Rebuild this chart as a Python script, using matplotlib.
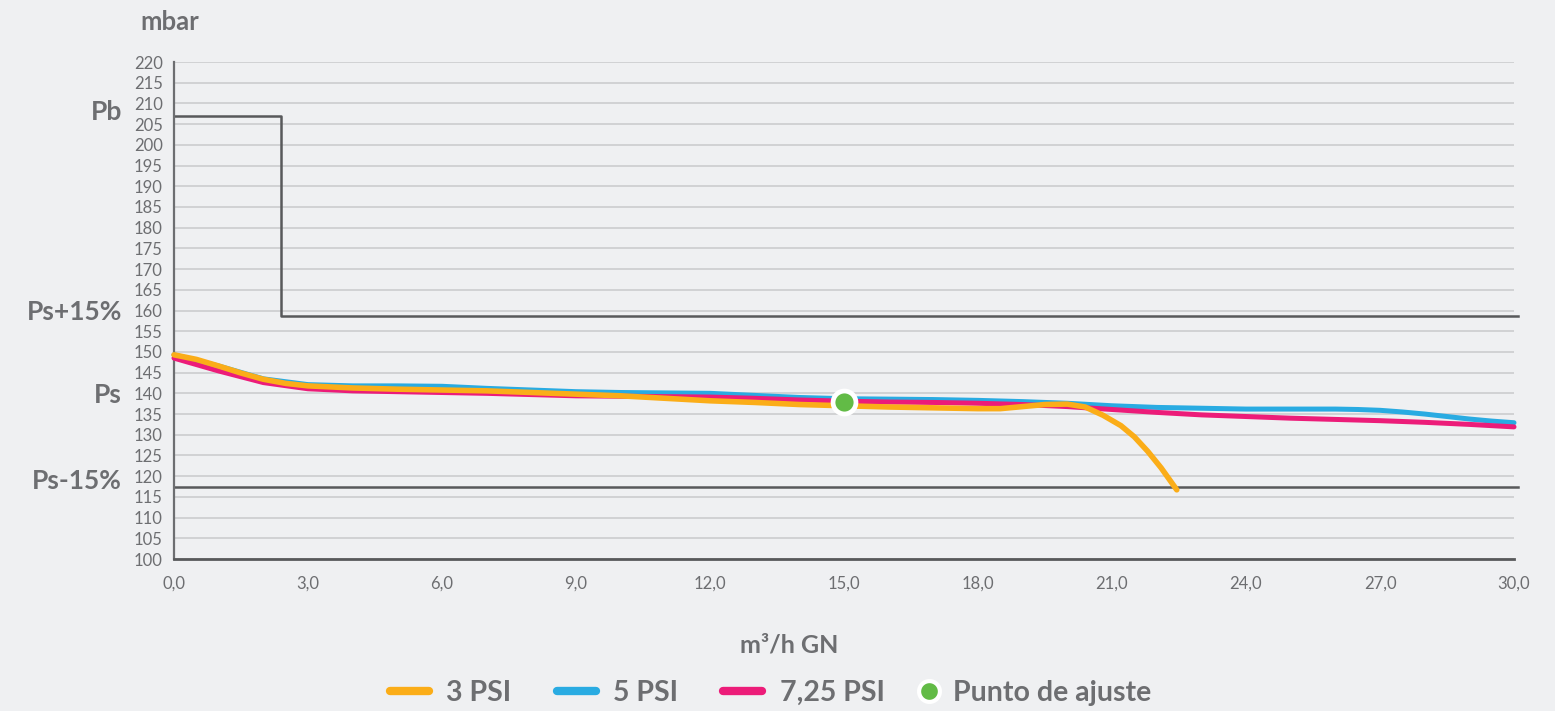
import matplotlib
matplotlib.use("Agg")
import matplotlib.pyplot as plt
from matplotlib.lines import Line2D
from matplotlib.transforms import blended_transform_factory

# ---------------- data ----------------
x_3psi = [0, 0.5, 1, 1.5, 2, 2.5, 3, 4, 5, 6, 7, 8, 9, 10, 11, 12, 13, 14, 15, 16,
          17, 18, 18.5, 19, 19.5, 20, 20.4, 20.8, 21.2, 21.5, 21.8, 22.1, 22.45]
y_3psi = [149.3, 148.2, 146.6, 144.9, 143.4, 142.4, 141.8, 141.3, 141.0, 140.8, 140.6,
          140.2, 139.8, 139.4, 138.8, 138.2, 137.8, 137.3, 137.0, 136.7, 136.5, 136.3,
          136.3, 136.8, 137.3, 137.4, 136.7, 134.7, 132.2, 129.5, 126.0, 122.0, 116.7]

x_5psi = [0, 1, 2, 3, 4, 5, 6, 7, 8, 9, 10, 11, 12, 13, 14, 15, 16, 17, 18, 19, 20,
          21, 22, 23, 24, 25, 26, 26.5, 27, 27.5, 28, 28.5, 29, 29.5, 30]
y_5psi = [149.3, 146.6, 143.5, 142.1, 141.8, 141.8, 141.7, 141.2, 140.8, 140.4, 140.2,
          140.1, 140.0, 139.5, 139.0, 138.7, 138.6, 138.5, 138.3, 138.0, 137.6, 137.0,
          136.6, 136.4, 136.2, 136.2, 136.2, 136.1, 135.9, 135.5, 135.0, 134.4, 133.8,
          133.3, 132.9]

x_725psi = [0, 1, 2, 3, 4, 5, 6, 7, 8, 9, 10, 11, 12, 13, 14, 15, 16, 17, 18, 19, 20,
            21, 22, 23, 24, 25, 26, 27, 28, 29, 30]
y_725psi = [148.5, 145.4, 142.6, 141.1, 140.6, 140.4, 140.2, 140.0, 139.7, 139.4, 139.3,
            139.2, 139.1, 138.8, 138.4, 138.1, 137.9, 137.8, 137.6, 137.3, 136.8, 136.1,
            135.4, 134.8, 134.4, 134.0, 133.7, 133.4, 133.0, 132.5, 131.9]

set_point_x = [15.0]
set_point_y = [138.0]

# limit lines
Ps = 138.0
Pb = 207.0
Ps_plus = 158.7
Ps_minus = 117.3
limit_upper_x = [0, 2.4, 2.4, 30.1]
limit_upper_y = [Pb, Pb, Ps_plus, Ps_plus]
limit_lower_x = [0, 30.1]
limit_lower_y = [Ps_minus, Ps_minus]

y_ticks = list(range(100, 221, 5))
x_ticks = [0, 3, 6, 9, 12, 15, 18, 21, 24, 27, 30]
x_tick_labels = ["0,0", "3,0", "6,0", "9,0", "12,0", "15,0", "18,0", "21,0", "24,0", "27,0", "30,0"]

side_labels = ["Pb", "Ps+15%", "Ps", "Ps-15%"]
side_label_y = [208.0, 159.7, 139.5, 118.8]

series_names = ["3 PSI", "5 PSI", "7,25 PSI", "Punto de ajuste"]

# ---------------- style ----------------
BG = "#eff0f2"
TXT = "#6d6e71"
GRID = "#c8c9cb"
DARK = "#58595b"
ORANGE = "#fbad18"
BLUE = "#29abe2"
PINK = "#ec1c79"
GREEN = "#62bb46"

plt.rcParams["font.family"] = ["Lato", "DejaVu Sans"]

fig = plt.figure(figsize=(15.55, 7.11), dpi=100, facecolor=BG)
ax = fig.add_axes([174 / 1555, 1 - 559 / 711, (1514 - 174) / 1555, (559 - 62) / 711])
ax.set_facecolor(BG)

ax.set_xlim(0, 30)
ax.set_ylim(100, 220)
ax.set_yticks(y_ticks)
ax.set_xticks(x_ticks)
ax.set_xticklabels(x_tick_labels)
ax.yaxis.grid(True, color=GRID, linewidth=1.1, zorder=0)
ax.xaxis.grid(False)
ax.set_axisbelow(True)
ax.tick_params(axis="both", length=0, labelsize=12, labelcolor=TXT)
ax.tick_params(axis="y", pad=8)
ax.tick_params(axis="x", pad=12)

for s in ["top", "right"]:
    ax.spines[s].set_visible(False)
ax.spines["left"].set_color(TXT)
ax.spines["left"].set_linewidth(1.6)
ax.spines["bottom"].set_color(DARK)
ax.spines["bottom"].set_linewidth(2.0)

# limit lines
ax.plot(limit_upper_x, limit_upper_y, color=DARK, linewidth=1.8, zorder=2, clip_on=False)
ax.plot(limit_lower_x, limit_lower_y, color=DARK, linewidth=1.8, zorder=2, clip_on=False)

# curves
ax.plot(x_5psi, y_5psi, color=BLUE, linewidth=3.6, solid_capstyle="round",
        solid_joinstyle="round", zorder=3, clip_on=False)
ax.plot(x_725psi, y_725psi, color=PINK, linewidth=3.6, solid_capstyle="round",
        solid_joinstyle="round", zorder=4, clip_on=False)
ax.plot(x_3psi, y_3psi, color=ORANGE, linewidth=4.0, solid_capstyle="round",
        solid_joinstyle="round", zorder=5, clip_on=False)
ax.plot(set_point_x, set_point_y, linestyle="none", marker="o", markersize=16.5,
        markerfacecolor=GREEN, markeredgecolor="white", markeredgewidth=3.4, zorder=6)

# side labels
tr = blended_transform_factory(fig.transFigure, ax.transData)
for lab, yv in zip(side_labels, side_label_y):
    ax.text(122 / 1555, yv, lab, transform=tr, ha="right", va="center",
            fontsize=19, fontweight="bold", color=TXT)

fig.text(170 / 1555, 1 - 22 / 711, "mbar", ha="center", va="center",
         fontsize=18.5, fontweight="bold", color=TXT)
fig.text(789 / 1555, 1 - 645 / 711, "m³/h GN", ha="center", va="center",
         fontsize=18, fontweight="bold", color=TXT)

# legend (two parts: the three line series, then the set-point marker)
leg_prop = {"family": ["Lato", "DejaVu Sans"], "weight": "bold", "size": 20.5}
line_handles = [
    Line2D([0], [0], color=ORANGE, linewidth=6, solid_capstyle="round"),
    Line2D([0], [0], color=BLUE, linewidth=6, solid_capstyle="round"),
    Line2D([0], [0], color=PINK, linewidth=6, solid_capstyle="round"),
]
marker_handle = Line2D([0], [0], linestyle="none", marker="o", markersize=15,
                       markerfacecolor=GREEN, markeredgecolor="white", markeredgewidth=3)

leg_y = 1 - 693 / 711
leg1 = fig.legend(line_handles, series_names[:3], loc="center left",
                  bbox_to_anchor=(390 / 1555, leg_y), ncol=3, frameon=False,
                  borderpad=0, borderaxespad=0, handlelength=1.37, handletextpad=0.6,
                  columnspacing=1.6, prop=leg_prop)
leg2 = fig.legend([marker_handle], series_names[3:], loc="center left",
                  bbox_to_anchor=(917.5 / 1555, leg_y), ncol=1, frameon=False,
                  borderpad=0, borderaxespad=0, handlelength=0.8, handletextpad=0.44,
                  prop=leg_prop)
for lg in (leg1, leg2):
    for t in lg.get_texts():
        t.set_color(TXT)

fig.savefig("out.png", dpi=100, facecolor=BG)
